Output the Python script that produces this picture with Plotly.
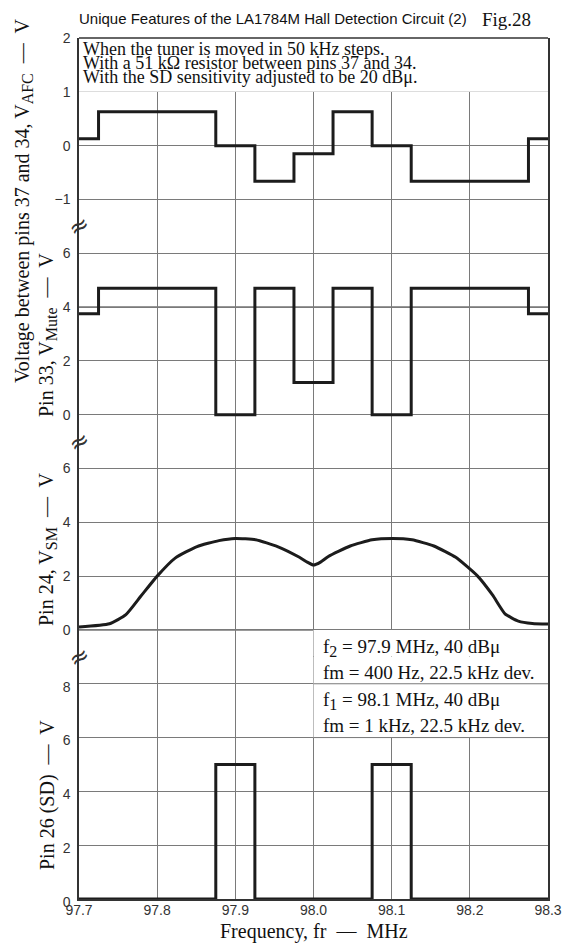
import plotly.graph_objects as go

# ---------------- data ----------------
freq_steps = [97.70, 97.75, 97.80, 97.85, 97.90, 97.95, 98.00,
              98.05, 98.10, 98.15, 98.20, 98.25, 98.30]
v_afc = [0.13, 0.63, 0.63, 0.63, 0.0, -0.66, -0.15, 0.63, 0.0, -0.66, -0.66, -0.66, 0.13]
v_mute = [3.75, 4.7, 4.7, 4.7, 0.0, 4.7, 1.2, 4.7, 0.0, 4.7, 4.7, 4.7, 3.75]
v_sd = [0, 0, 0, 0, 5, 0, 0, 0, 5, 0, 0, 0, 0]

sm_freq = [97.700, 97.739, 97.760, 97.779, 97.800, 97.823, 97.851, 97.879, 97.900,
           97.926, 97.954, 97.982, 97.992, 98.000, 98.009, 98.019, 98.047, 98.075,
           98.101, 98.126, 98.154, 98.182, 98.210, 98.229, 98.245, 98.262,
           98.280, 98.300]
sm_volt = [0.11, 0.23, 0.57, 1.25, 2.00, 2.67, 3.10, 3.32, 3.40,
           3.35, 3.10, 2.70, 2.52, 2.41, 2.52, 2.73, 3.12, 3.35,
           3.40, 3.35, 3.12, 2.70, 2.00, 1.30, 0.60, 0.33,
           0.24, 0.22]

x_ticks = [97.7, 97.8, 97.9, 98.0, 98.1, 98.2, 98.3]
afc_ticks = [-1, 0, 1, 2]
mute_ticks = [0, 2, 4, 6]
sm_ticks = [0, 2, 4, 6]
sd_ticks = [0, 2, 4, 6, 8]

# ---------------- layout geometry ----------------
OFF = 8                       # default page margin around the plot div
W, H = 564, 936
ML, MR, MT, MB = 71, 24, 30, 45
PW = W - ML - MR
PH = H - MT - MB


def px(xp):   # page pixel -> paper x
    return (xp - OFF - ML) / PW


def py(yp):   # page pixel -> paper y
    return (H - MB - (yp - OFF)) / PH


tot = 864.0
d_sd = [0, 243 / tot]
d_sm = [243 / tot, 459 / tot]
d_mu = [459 / tot, 675 / tot]
d_afc = [675 / tot, 1.0]
afc_rng = [-1.5, 2]
sm_rng = [-1, 7]
sd_rng = [0, 9]


def to_paper(v, dom, rng):
    return dom[0] + (v - rng[0]) / (rng[1] - rng[0]) * (dom[1] - dom[0])


SERIF = "Liberation Serif, Times New Roman, serif"
SANS = "Liberation Sans, Arial, sans-serif"
LC = "#1c1c1c"
GRID = "#7a7a7a"
FRAME = "#333333"
TXT = "#111111"

fig = go.Figure()
fig.add_trace(go.Scatter(x=freq_steps, y=v_sd, mode="lines", line=dict(color=LC, width=3, shape="hvh"),
                         xaxis="x", yaxis="y", showlegend=False, hoverinfo="skip"))
fig.add_trace(go.Scatter(x=sm_freq, y=sm_volt, mode="lines",
                         line=dict(color=LC, width=3, shape="spline", smoothing=0.5),
                         xaxis="x", yaxis="y2", showlegend=False, hoverinfo="skip"))
fig.add_trace(go.Scatter(x=freq_steps, y=v_mute, mode="lines", line=dict(color=LC, width=3, shape="hvh"),
                         xaxis="x", yaxis="y3", showlegend=False, hoverinfo="skip"))
fig.add_trace(go.Scatter(x=freq_steps, y=v_afc, mode="lines", line=dict(color=LC, width=3, shape="hvh"),
                         xaxis="x", yaxis="y4", showlegend=False, hoverinfo="skip"))

tickfont = dict(family=SANS, size=14, color="#333333")


def yax(domain, rng, ticks, shift=0):
    return dict(domain=domain, range=rng, tickvals=ticks, anchor="x", showline=True, mirror=True,
                linecolor=FRAME, linewidth=1.5, showgrid=True, gridcolor=GRID, gridwidth=1,
                zeroline=False, ticks="", tickfont=tickfont, ticklabelstandoff=4,
                ticklabelshift=shift, fixedrange=True)


fig.update_layout(
    width=W, height=H, margin=dict(l=ML, r=MR, t=MT, b=MB, autoexpand=False),
    paper_bgcolor="white", plot_bgcolor="white",
    xaxis=dict(domain=[0, 1], range=[97.7, 98.3], tickvals=x_ticks, tickformat=".1f", anchor="y",
               showline=True, linecolor=FRAME, linewidth=1.5, showgrid=True, gridcolor=GRID, gridwidth=1,
               zeroline=False, ticks="", tickfont=tickfont, ticklabelstandoff=-3, fixedrange=True),
    yaxis=yax(d_sd, sd_rng, sd_ticks, shift=3),
    yaxis2=yax(d_sm, sm_rng, sm_ticks),
    yaxis3=yax(d_mu, [-1, 7], mute_ticks),
    yaxis4=yax(d_afc, afc_rng, afc_ticks),
)

# white label boxes (hide grid), dark reference lines, top frame
afc1_paper = to_paper(1, d_afc, afc_rng)
shapes = [
    dict(type="rect", xref="x", yref="y4", x0=97.7, x1=98.3, y0=1, y1=2,
         fillcolor="white", line=dict(width=0), layer="between"),
    dict(type="rect", xref="x", yref="y2", x0=98.0, x1=98.3, y0=-1, y1=0,
         fillcolor="white", line=dict(width=0), layer="between"),
    dict(type="rect", xref="x", yref="y", x0=98.0, x1=98.3, y0=6, y1=9,
         fillcolor="white", line=dict(width=0), layer="between"),
    dict(type="line", xref="x", yref="y", x0=98.0, x1=98.3, y0=8, y1=8,
         line=dict(color=GRID, width=1), layer="between"),
    dict(type="line", xref="x", yref="y", x0=98.0, x1=98.3, y0=6, y1=6,
         line=dict(color=GRID, width=1), layer="between"),
    dict(type="line", xref="paper", yref="y2", x0=0, x1=1, y0=0, y1=0,
         line=dict(color="#111111", width=1), layer="between"),
    dict(type="line", xref="paper", yref="y3", x0=0, x1=1, y0=4, y1=4,
         line=dict(color="#111111", width=1), layer="between"),
    dict(type="line", xref="x", yref="paper", x0=98.0, x1=98.0, y0=0, y1=afc1_paper,
         line=dict(color="#111111", width=1), layer="between"),
    dict(type="line", xref="paper", yref="paper", x0=0, x1=1, y0=1, y1=1,
         line=dict(color=FRAME, width=1.5), layer="above"),
]
# small grid stubs left visible at the edges of the white label boxes
tk = 4.0 / PH
for xv in x_ticks[1:-1]:
    shapes.append(dict(type="line", xref="x", yref="paper", x0=xv, x1=xv, y0=1, y1=1 - tk,
                       line=dict(color=GRID, width=1), layer="between"))
    shapes.append(dict(type="line", xref="x", yref="paper", x0=xv, x1=xv, y0=afc1_paper,
                       y1=afc1_paper + 3.0 / PH, line=dict(color=GRID, width=1), layer="between"))
for xv in [98.1, 98.2]:
    p0 = to_paper(0, d_sm, sm_rng)
    p8 = to_paper(8, d_sd, sd_rng)
    p6 = to_paper(6, d_sd, sd_rng)
    for a, b in [(p0, p0 - tk), (p8 + tk, p8 - tk), (p6, p6 + tk)]:
        shapes.append(dict(type="line", xref="x", yref="paper", x0=xv, x1=xv, y0=a, y1=b,
                           line=dict(color=GRID, width=1), layer="between"))
fig.update_layout(shapes=shapes)

ann = []
# main title and figure number
ann.append(dict(text="Unique Features of the LA1784M Hall Detection Circuit (2)", xref="paper", yref="paper",
                x=px(77), y=py(19), xanchor="left", yanchor="middle", showarrow=False,
                font=dict(family=SANS, size=15, color=TXT)))
ann.append(dict(text="Fig.28", xref="paper", yref="paper", x=px(480), y=py(20), xanchor="left",
                yanchor="middle", showarrow=False, font=dict(family=SERIF, size=19, color=TXT)))

# condition texts
for txt, yc in [("When the tuner is moved in 50 kHz steps.", 49),
                ("With a 51 kΩ resistor between pins 37 and 34.", 63),
                ("With the SD sensitivity adjusted to be 20 dBμ.", 77)]:
    ann.append(dict(text=txt, xref="paper", yref="paper", x=px(81), y=py(yc), xanchor="left",
                    yanchor="middle", showarrow=False, font=dict(family=SERIF, size=18, color=TXT)))


def sub(s, size=16):
    return "<sub><span style='font-size:%dpx'>%s</span></sub>" % (size, s)


for txt, yc in [("f" + sub("2", 16) + " = 97.9 MHz, 40 dBμ", 648),
                ("fm = 400 Hz, 22.5 kHz dev.", 672),
                ("f" + sub("1", 16) + " = 98.1 MHz, 40 dBμ", 701),
                ("fm = 1 kHz, 22.5 kHz dev.", 725)]:
    ann.append(dict(text=txt, xref="paper", yref="paper", x=px(321), y=py(yc), xanchor="left",
                    yanchor="middle", showarrow=False, font=dict(family=SERIF, size=19, color=TXT)))

# axis titles
ytitles = [("Voltage between pins 37 and 34, V" + sub("AFC") + "  —  V", 23, 201),
           ("Pin 33, V" + sub("Mute") + "  —  V", 47, 335),
           ("Pin 24, V" + sub("SM") + "  —  V", 47, 549),
           ("Pin 26 (SD)  —  V", 47, 795)]
for txt, xc, yc in ytitles:
    ann.append(dict(text=txt, xref="paper", yref="paper", x=px(xc), y=py(yc), xanchor="center",
                    yanchor="middle", textangle=-90, showarrow=False,
                    font=dict(family=SERIF, size=20, color=TXT)))
ann.append(dict(text="Frequency, fr  —  MHz", xref="paper", yref="paper", x=0.5, y=py(932),
                xanchor="center", yanchor="middle", showarrow=False,
                font=dict(family=SERIF, size=20, color=TXT)))

# axis break marks
for yb in [d_afc[0], d_mu[0], d_sm[0]]:
    ann.append(dict(text="≈", xref="paper", yref="paper", x=0, y=yb, xanchor="center", yanchor="middle",
                    showarrow=False, textangle=-30,
                    font=dict(family="DejaVu Sans, sans-serif", size=24, color="#333333")))

fig.update_layout(annotations=ann)
fig.write_html("out.html")
